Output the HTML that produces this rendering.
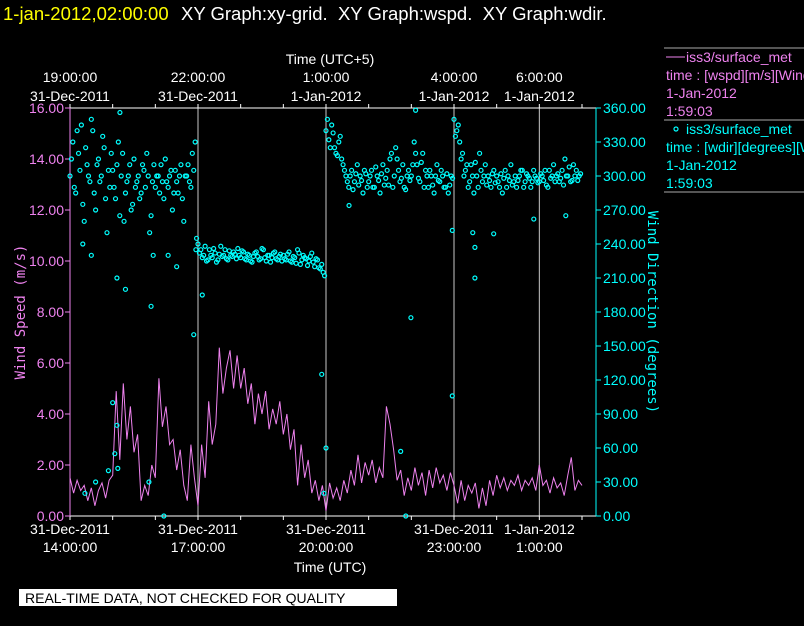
<!DOCTYPE html>
<html><head><meta charset="utf-8"><style>
html,body{margin:0;padding:0;background:#000;width:804px;height:626px;overflow:hidden}
svg{display:block;font-family:"Liberation Sans",sans-serif}
</style></head><body>
<svg id="chart" width="804" height="626" viewBox="0 0 804 626">
<text x="3" y="20" font-size="18.5" fill="#ffff00">1-jan-2012,02:00:00</text>
<text x="181" y="20" font-size="18.5" fill="#ffffff" style="white-space:pre" xml:space="preserve">XY Graph:xy-grid.  XY Graph:wspd.  XY Graph:wdir.</text>
<g id="grid"></g>
<g id="axes"></g>
<g id="speed"></g>
<g id="dir"></g>
<g font-size="14">
<line x1="664" y1="48" x2="804" y2="48" stroke="#aaa"/>
<line x1="664" y1="120" x2="804" y2="120" stroke="#aaa"/>
<line x1="664" y1="192" x2="804" y2="192" stroke="#aaa"/>
<line x1="666" y1="57" x2="685" y2="57" stroke="#ee82ee"/>
<text x="686" y="62" fill="#ee82ee">iss3/surface_met</text>
<text x="666" y="80" fill="#ee82ee">time : [wspd][m/s][Wind</text>
<text x="666" y="98" fill="#ee82ee">1-Jan-2012</text>
<text x="666" y="116" fill="#ee82ee">1:59:03</text>
<circle cx="676" cy="129" r="2" fill="none" stroke="#00ffff" stroke-width="1.2"/>
<text x="686" y="134" fill="#00ffff">iss3/surface_met</text>
<text x="666" y="152" fill="#00ffff">time : [wdir][degrees][Wind</text>
<text x="666" y="170" fill="#00ffff">1-Jan-2012</text>
<text x="666" y="188" fill="#00ffff">1:59:03</text>
</g>
<rect x="19" y="589" width="378" height="17" fill="#fff"/>
<text x="25" y="603" font-size="14" fill="#000">REAL-TIME DATA, NOT CHECKED FOR QUALITY</text>
</svg>
<script>
// data
const speedStepHours = 1/12;
const speedValues = [
1.5,0.9,1.4,1.0,1.2,0.6,1.1,0.4,1.0,1.3,0.7,1.4,
1.6,4.9,2.2,5.2,3.0,4.3,2.5,3.2,0.6,1.2,0.8,2.0,
1.5,5.4,3.5,4.3,2.8,3.0,1.8,2.6,1.2,0.6,2.8,1.5,
0.4,2.8,1.5,4.5,2.8,3.6,6.6,4.8,5.8,6.5,5.0,6.3,
5.0,5.8,4.4,5.2,3.6,4.8,4.0,4.9,3.4,4.2,3.6,4.5,
3.2,4.0,2.6,3.4,1.2,2.8,1.5,2.2,0.9,1.4,0.6,1.2,
0.2,1.3,0.7,1.1,0.6,1.4,0.9,1.8,1.2,2.4,1.3,2.1,
1.6,2.2,1.3,1.9,1.5,4.3,3.6,2.6,1.4,1.8,0.8,1.5,
1.0,1.9,1.2,1.7,0.8,1.8,1.1,1.9,1.3,1.6,1.0,1.7,
1.2,0.5,1.4,0.6,1.2,0.9,1.3,0.3,1.1,0.4,1.4,0.8,
1.6,1.1,1.5,1.0,1.4,1.2,1.6,1.0,1.4,1.2,1.5,1.0,
2.0,1.2,1.4,0.9,1.5,1.1,1.3,0.8,1.6,2.3,1.0,1.4,1.2];
const dirStepHours = 1/15;
const dirValues = [
300,330,285,320,345,260,310,295,340,270,315,300,325,250,290,
305,280,330,300,260,295,310,275,290,300,285,305,320,250,295,
290,300,310,280,295,300,270,305,285,310,260,300,295,320,330,
240,235,230,225,235,228,232,226,238,230,227,234,229,231,236,
228,233,226,230,224,232,229,227,235,225,230,228,233,226,231,
230,226,233,224,228,235,222,230,227,225,232,220,226,218,215,
340,332,345,325,318,335,310,300,290,305,295,310,300,285,302,
295,305,290,300,285,310,298,292,320,300,315,295,310,288,305,
300,330,310,295,320,305,290,300,285,310,295,300,290,285,300,
350,340,330,320,305,290,310,285,300,320,295,310,300,290,305,
300,290,285,305,300,310,295,290,300,305,295,300,290,305,298,
295,300,305,290,298,310,300,295,305,315,300,295,310,305,300];
const dirValues2 = [
315,290,340,305,275,325,300,350,285,310,295,335,280,305,320,
290,310,265,320,285,300,270,315,295,280,310,290,300,265,310,
300,285,295,315,290,305,285,295,300,280,300,310,290,305,245,
232,228,238,226,230,236,224,231,229,235,226,230,233,227,230,
234,227,231,225,229,233,226,236,228,230,224,232,227,229,225,
227,231,225,229,223,232,226,228,221,229,224,227,219,222,212,
350,325,338,320,330,315,305,295,300,288,302,292,296,305,290,
300,290,308,296,302,292,305,315,290,325,305,298,290,300,296,
310,320,298,312,290,300,305,292,300,296,305,290,302,292,298,
335,345,315,300,310,295,300,312,290,305,300,292,296,302,294,
295,302,298,290,296,292,300,296,305,290,302,298,295,300,294,
302,296,292,305,300,295,302,298,292,300,308,296,300,296,302];
const outlierHours = [0.3,0.5,1.1,1.3,1.9,1.95,2.3,2.5,2.9,3.1,2.95,0.35,0.6,0.9,1.05,1.1,1.12,1.0,1.85,2.2,1.17,5.9,6.0,5.95,7.75,7.87,8.96,7.99,8.1,9.44,9.49,9.49,8.96,9.93,10.87,11.62,6.54];
const outlierDegrees = [240,230,210,200,185,230,230,220,160,195,235,20,30,40,55,80,42,100,30,0,356,125,60,20,57,0,106,175,358,250,237,210,252,249,262,265,274];
const bottomTicks = ["31-Dec-2011|14:00:00","31-Dec-2011|17:00:00","31-Dec-2011|20:00:00","31-Dec-2011|23:00:00","1-Jan-2012|1:00:00"];
const bottomTickHours = [0,3,6,9,11];
const topTicks = ["19:00:00|31-Dec-2011","22:00:00|31-Dec-2011","1:00:00|1-Jan-2012","4:00:00|1-Jan-2012","6:00:00|1-Jan-2012"];
const leftTicks = [0,2,4,6,8,10,12,14,16];
const rightTicks = [0,30,60,90,120,150,180,210,240,270,300,330,360];

const X0=70,X1=596,Y0=516,Y1=108,PXH=128/3;
const xs=h=>X0+h*PXH;
const ysL=v=>Y0-(v/16)*(Y0-Y1);
const ysR=v=>Y0-(v/360)*(Y0-Y1);
const NS="http://www.w3.org/2000/svg";
function mk(tag,attrs,parent,txt){const e=document.createElementNS(NS,tag);for(const k in attrs)e.setAttribute(k,attrs[k]);if(txt!==undefined)e.textContent=txt;parent.appendChild(e);return e;}
const grid=document.getElementById('grid'),axes=document.getElementById('axes');
bottomTickHours.forEach((h,i)=>{if(h===0)return;const l=mk('line',{x1:xs(h),y1:Y1,x2:xs(h),y2:Y0,stroke:'#c8c8c8','stroke-width':1},grid);

});
mk('line',{x1:X0,y1:Y0,x2:X1,y2:Y0,stroke:'#fff'},axes);
mk('line',{x1:X0,y1:Y1,x2:X1,y2:Y1,stroke:'#fff'},axes);
mk('line',{x1:X0,y1:Y1,x2:X0,y2:Y0,stroke:'#ee82ee'},axes);
mk('line',{x1:X1,y1:Y1,x2:X1,y2:Y0,stroke:'#00ffff'},axes);
for(let h=0;h<=12;h++){mk('line',{x1:xs(h),y1:Y0,x2:xs(h),y2:Y0+4,stroke:'#fff'},axes);mk('line',{x1:xs(h),y1:Y1,x2:xs(h),y2:Y1-4,stroke:'#fff'},axes);}
bottomTickHours.forEach((h,i)=>{const [a,b]=bottomTicks[i].split('|');
const t=mk('text',{x:xs(h),y:534,'font-size':14,fill:'#fff','text-anchor':'middle'},axes,a);


mk('text',{x:xs(h),y:552,'font-size':14,fill:'#fff','text-anchor':'middle'},axes,b);});
topTicks.forEach((s,i)=>{const [a,b]=s.split('|');const h=bottomTickHours[i];
const t=mk('text',{x:xs(h),y:82,'font-size':14,fill:'#fff','text-anchor':'middle'},axes,a);


mk('text',{x:xs(h),y:101,'font-size':14,fill:'#fff','text-anchor':'middle'},axes,b);});
const xt=mk('text',{x:330,y:572,'font-size':14,fill:'#fff','text-anchor':'middle'},axes,'Time (UTC)');


const tt=mk('text',{x:330,y:64,'font-size':14,fill:'#fff','text-anchor':'middle'},axes,'Time (UTC+5)');


leftTicks.forEach(v=>{mk('line',{x1:X0-5,y1:ysL(v),x2:X0,y2:ysL(v),stroke:'#ee82ee'},axes);
const t=mk('text',{x:X0-6,y:ysL(v)+5,'font-size':14,fill:'#ee82ee','text-anchor':'end'},axes,v.toFixed(2));

});
rightTicks.forEach(v=>{mk('line',{x1:X1,y1:ysR(v),x2:X1+5,y2:ysR(v),stroke:'#00ffff'},axes);
const t=mk('text',{x:X1+7,y:ysR(v)+5,'font-size':14,fill:'#00ffff'},axes,v.toFixed(2));

});
const yl=mk('text',{x:0,y:0,'font-size':14,fill:'#ee82ee','text-anchor':'middle','font-family':'DejaVu Sans Mono, monospace',transform:'translate(25,312) rotate(-90)'},axes,'Wind Speed (m/s)');


const yr=mk('text',{x:0,y:0,'font-size':14,fill:'#00ffff','text-anchor':'middle','font-family':'DejaVu Sans Mono, monospace',transform:'translate(648,312) rotate(90)'},axes,'Wind Direction (degrees)');


const pts=speedValues.map((v,i)=>xs(i*speedStepHours).toFixed(1)+','+ysL(v).toFixed(1)).join(' ');
const pl=mk('polyline',{points:pts,fill:'none',stroke:'#ee82ee','stroke-width':1},document.getElementById('speed'));


const dg=document.getElementById('dir');
function dot(h,v){const c=mk('circle',{cx:xs(h),cy:ysR(v),r:2,fill:'none',stroke:'#00ffff','stroke-width':1.2},dg);

}
dirValues.forEach((v,i)=>dot(i*dirStepHours,v));
dirValues2.forEach((v,i)=>dot(i*dirStepHours+dirStepHours/2,v));
outlierHours.forEach((h,i)=>dot(h,outlierDegrees[i]));
</script>
</body></html>
